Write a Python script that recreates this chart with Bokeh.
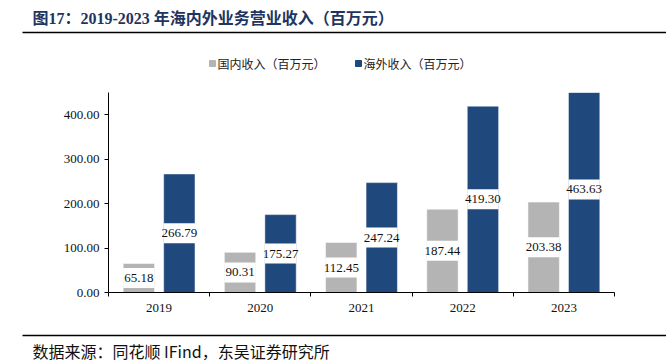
from bokeh.plotting import figure
from bokeh.layouts import column
from bokeh.models import (Range1d, NumeralTickFormatter, FixedTicker,
                          LinearAxis, ColumnDataSource)
from bokeh.core.properties import value
from bokeh.embed import file_html
from bokeh.resources import INLINE

years = ["2019", "2020", "2021", "2022", "2023"]
domestic = [65.18, 90.31, 112.45, 187.44, 203.38]
overseas = [266.79, 175.27, 247.24, 419.30, 463.63]
y_ticks = [0, 100, 200, 300, 400]

title_text = "图17：2019-2023 年海内外业务营业收入（百万元）"
source_text = "数据来源：同花顺 IFind，东吴证券研究所"
legend_labels = ["国内收入（百万元）", "海外收入（百万元）"]

GREY = "#B4B4B4"
NAVY = "#1F497D"
SERIF = "Liberation Serif, Noto Sans CJK SC"
CJK = "Noto Sans CJK SC"
W = 666


def blank(height):
    f = figure(width=W, height=height, x_range=Range1d(0, W), y_range=Range1d(height, 0),
               output_backend="svg", toolbar_location=None,
               x_axis_location=None, y_axis_location=None,
               min_border=0, min_border_left=0, min_border_right=0,
               min_border_top=0, min_border_bottom=0)
    f.outline_line_color = None
    f.grid.grid_line_color = None
    f.frame_align = False
    return f


# ---------- header: title, rule, legend ----------
top = blank(80)
top.text(x=[32], y=[18], text=[title_text], text_font=value(SERIF), text_font_size="16px",
         text_font_style="bold", text_color="#1F3560", text_baseline="middle")
top.segment(x0=[22], y0=[32], x1=[W], y1=[32], line_color="#000000", line_width=1.6)
top.scatter(x=[212, 358], y=[63, 63], marker="square", size=6, color=[GREY, NAVY])
top.text(x=[217, 363], y=[63, 63], text=legend_labels, text_font=value(CJK),
         text_font_size="12px", text_color="#222222", text_baseline="middle")

# ---------- main chart ----------
BW = 0.31
OFF = 0.2
centers = [i + 0.5 for i in range(len(years))]
bounds = list(range(len(years) + 1))
src = ColumnDataSource(dict(
    xd=[c - OFF for c in centers], xo=[c + OFF for c in centers],
    dom=domestic, ovs=overseas,
    dom_mid=[v / 2 for v in domestic], ovs_mid=[v / 2 for v in overseas],
    dom_lbl=[f"{v:.2f}" for v in domestic], ovs_lbl=[f"{v:.2f}" for v in overseas],
))

p = figure(width=W, height=240, x_range=Range1d(0, len(years)), y_range=Range1d(0, 450),
           output_backend="svg", toolbar_location=None, x_axis_location=None,
           min_border_left=108, min_border_right=52, min_border_top=12, min_border_bottom=28)
p.outline_line_color = None
p.grid.grid_line_color = None
p.frame_align = False

p.vbar(x="xd", top="dom", width=BW, source=src,
       fill_color=GREY, line_color="white", line_width=0.5)
p.vbar(x="xo", top="ovs", width=BW, source=src,
       fill_color=NAVY, line_color="white", line_width=0.5)

for xk, key in (("xd", "dom"), ("xo", "ovs")):
    p.rect(x=xk, y=f"{key}_mid", width=BW, height=20,
           height_units="screen", source=src, fill_color="white", line_color=None)
    p.text(x=xk, y=f"{key}_mid", text=f"{key}_lbl", source=src,
           text_font=value("Liberation Serif"), text_font_size="13px", text_color="#111111",
           text_align="center", text_baseline="middle")

# y axis
ya = p.yaxis[0]
ya.ticker = FixedTicker(ticks=y_ticks)
ya.formatter = NumeralTickFormatter(format="0.00")
ya.axis_line_color = "#000000"
ya.major_tick_line_color = "#000000"
ya.major_tick_out = 4
ya.major_tick_in = 0
ya.minor_tick_line_color = None
ya.major_label_text_font = "Liberation Serif"
ya.major_label_text_font_size = "13px"
ya.major_label_text_color = "#111111"
ya.major_label_standoff = 5

# x axis: labels at category centres, tick marks at category boundaries
xa = LinearAxis(ticker=FixedTicker(ticks=centers, minor_ticks=bounds),
                major_label_overrides={c: y for c, y in zip(centers, years)},
                axis_line_color="#000000", major_tick_line_color=None,
                major_tick_out=0, major_tick_in=0,
                minor_tick_line_color="#000000", minor_tick_out=4, minor_tick_in=0,
                major_label_text_font="Liberation Serif",
                major_label_text_font_size="13px",
                major_label_text_color="#111111", major_label_standoff=7)
p.add_layout(xa, "below")

# ---------- footer ----------
bot = blank(43)
bot.segment(x0=[22], y0=[15], x1=[W], y1=[15], line_color="#000000", line_width=1.6)
bot.text(x=[32], y=[30], text=[source_text], text_font=value(CJK), text_font_size="16px",
         text_color="#111111", text_baseline="middle")

layout = column(top, p, bot, spacing=0)
open("out.html", "w").write(file_html(layout, INLINE))
